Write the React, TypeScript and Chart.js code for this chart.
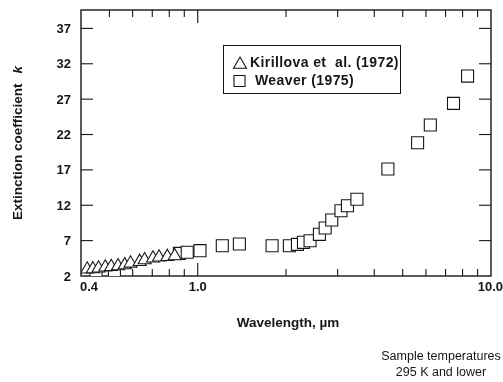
import React, { useEffect, useRef } from "react";
import { Chart, registerables } from "chart.js";

Chart.register(...registerables);

// Kirillova et al. (1972) – triangles
const kirillovaX = [0.42, 0.439, 0.459, 0.484, 0.507, 0.535, 0.564, 0.59, 0.634, 0.659, 0.704, 0.738, 0.788, 0.835];
const kirillovaY = [2.95, 2.99, 3.09, 3.23, 3.31, 3.41, 3.55, 3.79, 4.02, 4.26, 4.5, 4.64, 4.73, 4.83];

// Weaver (1975) – squares
const weaverX = [0.45, 0.52, 0.866, 0.921, 1.018, 1.213, 1.387, 1.793, 2.054, 2.188, 2.294, 2.416, 2.6, 2.72, 2.865, 3.08, 3.24, 3.49, 4.45, 5.62, 6.21, 7.45, 8.32];
const weaverY = [2.2, 2.4, 5.2, 5.35, 5.58, 6.28, 6.52, 6.28, 6.28, 6.47, 6.76, 6.99, 7.89, 8.78, 9.91, 11.23, 11.93, 12.84, 17.12, 20.84, 23.34, 26.4, 30.26];

const yTicks = [2, 7, 12, 17, 22, 27, 32, 37];
const xMajorTicks = [0.4, 1, 10];
const xMajorLabels = ["0.4", "1.0", "10.0"];
const xMinorTicks = [0.5, 0.6, 0.7, 0.8, 0.9, 2, 3, 4, 5, 6, 7, 8, 9];

const legendLabels = ["Kirillova et  al. (1972)", "Weaver (1975)"];
const xTitle = "Wavelength, µm";
const yTitle = "Extinction coefficient";
const yTitleSymbol = "k";
const noteLines = ["Sample temperatures", "295 K and lower"];

const INK = "#161616";
const FONT = "'Liberation Sans', Arial, sans-serif";

function drawTriangle(ctx: CanvasRenderingContext2D, x: number, y: number, r: number) {
  ctx.beginPath();
  ctx.moveTo(x, y - r);
  ctx.lineTo(x + r * Math.sin((2 * Math.PI) / 3), y + r / 2);
  ctx.lineTo(x - r * Math.sin((2 * Math.PI) / 3), y + r / 2);
  ctx.closePath();
  ctx.fillStyle = "#fff";
  ctx.fill();
  ctx.stroke();
}

function drawSquare(ctx: CanvasRenderingContext2D, x: number, y: number, s: number) {
  ctx.beginPath();
  ctx.rect(x - s / 2, y - s / 2, s, s);
  ctx.fillStyle = "#fff";
  ctx.fill();
  ctx.stroke();
}

const decor = {
  id: "decor",
  beforeDatasetsDraw(chart: any) {
    const { ctx, chartArea: a, scales } = chart;
    const x = scales.x;
    const y = scales.y;
    ctx.save();
    ctx.strokeStyle = INK;
    ctx.lineWidth = 1.4;
    ctx.strokeRect(a.left, a.top, a.right - a.left, a.bottom - a.top);
    ctx.lineWidth = 1.1;
    const seg = (x1: number, y1: number, x2: number, y2: number) => {
      ctx.beginPath();
      ctx.moveTo(x1, y1);
      ctx.lineTo(x2, y2);
      ctx.stroke();
    };
    yTicks.forEach((v) => {
      const py = y.getPixelForValue(v);
      if (py < a.bottom - 1) {
        seg(a.left, py, a.left + 12, py);
        seg(a.right, py, a.right - 12, py);
      }
    });
    xMajorTicks.forEach((v) => {
      const px = x.getPixelForValue(v);
      if (px > a.left + 1 && px < a.right - 1) {
        seg(px, a.bottom, px, a.bottom - 13);
        seg(px, a.top, px, a.top + 13);
      }
    });
    xMinorTicks.forEach((v) => {
      const px = x.getPixelForValue(v);
      seg(px, a.bottom, px, a.bottom - 7);
      seg(px, a.top, px, a.top + 7);
    });
    ctx.restore();
  },
  afterDraw(chart: any) {
    const { ctx, chartArea: a, scales } = chart;
    const x = scales.x;
    const y = scales.y;
    ctx.save();
    ctx.fillStyle = INK;
    ctx.strokeStyle = INK;
    // y tick labels
    ctx.font = `bold 13px ${FONT}`;
    ctx.textAlign = "right";
    ctx.textBaseline = "middle";
    yTicks.forEach((v) => {
      ctx.fillText(String(v), a.left - 10, y.getPixelForValue(v) + 1);
    });
    // x tick labels
    xMajorTicks.forEach((v, i) => {
      const px = x.getPixelForValue(v);
      if (i === 0) {
        ctx.textAlign = "left";
        ctx.fillText(xMajorLabels[i], px - 1, a.bottom + 11);
      } else if (i === xMajorTicks.length - 1) {
        ctx.textAlign = "right";
        ctx.fillText(xMajorLabels[i], px + 12, a.bottom + 11);
      } else {
        ctx.textAlign = "center";
        ctx.fillText(xMajorLabels[i], px, a.bottom + 11);
      }
    });
    // x title
    ctx.font = `bold 13.5px ${FONT}`;
    ctx.textAlign = "center";
    ctx.fillText(xTitle, (a.left + a.right) / 2 + 2, a.bottom + 47);
    // y title
    ctx.save();
    ctx.translate(18, (a.top + a.bottom) / 2);
    ctx.rotate(-Math.PI / 2);
    ctx.font = `bold 13.5px ${FONT}`;
    const w1 = ctx.measureText(yTitle).width;
    ctx.font = `italic bold 13.5px ${FONT}`;
    const w2 = ctx.measureText(yTitleSymbol).width;
    const gap = 10;
    const total = w1 + gap + w2;
    ctx.textAlign = "left";
    ctx.font = `bold 13.5px ${FONT}`;
    ctx.fillText(yTitle, -total / 2, 0);
    ctx.font = `italic bold 13.5px ${FONT}`;
    ctx.fillText(yTitleSymbol, -total / 2 + w1 + gap, 0);
    ctx.restore();
    // note
    ctx.font = `12.5px ${FONT}`;
    ctx.textAlign = "center";
    ctx.fillText(noteLines[0], 441, 357);
    ctx.fillText(noteLines[1], 441, 373);
    // legend
    ctx.lineWidth = 1;
    ctx.strokeRect(223.5, 45.5, 177, 48);
    ctx.lineWidth = 1.1;
    drawTriangle(ctx, 240, 64.5, 7.5);
    drawSquare(ctx, 239.5, 81, 11);
    ctx.fillStyle = INK;
    ctx.font = `bold 14px ${FONT}`;
    (ctx as any).letterSpacing = "0.4px";
    ctx.textAlign = "left";
    ctx.textBaseline = "middle";
    ctx.fillText(legendLabels[0], 250, 63);
    ctx.fillText(legendLabels[1], 255, 81.5);
    ctx.restore();
  },
};

export default function App() {
  const ref = useRef<HTMLCanvasElement | null>(null);
  useEffect(() => {
    if (!ref.current) return;
    const chart = new Chart(ref.current, {
      type: "scatter",
      data: {
        datasets: [
          {
            label: legendLabels[0],
            data: kirillovaX.map((v, i) => ({ x: v, y: kirillovaY[i] })),
            pointStyle: "triangle",
            pointRadius: 7.5,
            pointBorderWidth: 1.1,
            borderColor: INK,
            backgroundColor: "#ffffff",
          },
          {
            label: legendLabels[1],
            data: weaverX.map((v, i) => ({ x: v, y: weaverY[i] })),
            pointStyle: "rect",
            pointRadius: 8.5,
            pointBorderWidth: 1.1,
            borderColor: INK,
            backgroundColor: "#ffffff",
          },
        ],
      },
      options: {
        responsive: false,
        animation: false,
        devicePixelRatio: 1,
        layout: { padding: { left: 81, right: 12, top: 10, bottom: 106 } },
        plugins: { legend: { display: false }, tooltip: { enabled: false } },
        scales: {
          x: { type: "logarithmic", min: 0.4, max: 10, display: false },
          y: { type: "linear", min: 2, max: 39.6, display: false },
        },
      },
      plugins: [decor],
    });
    return () => chart.destroy();
  }, []);
  return (
    <div style={{ position: "absolute", left: 0, top: 0, width: 503, height: 382, background: "#fff" }}>
      <canvas ref={ref} width={503} height={382} style={{ display: "block" }} />
    </div>
  );
}
